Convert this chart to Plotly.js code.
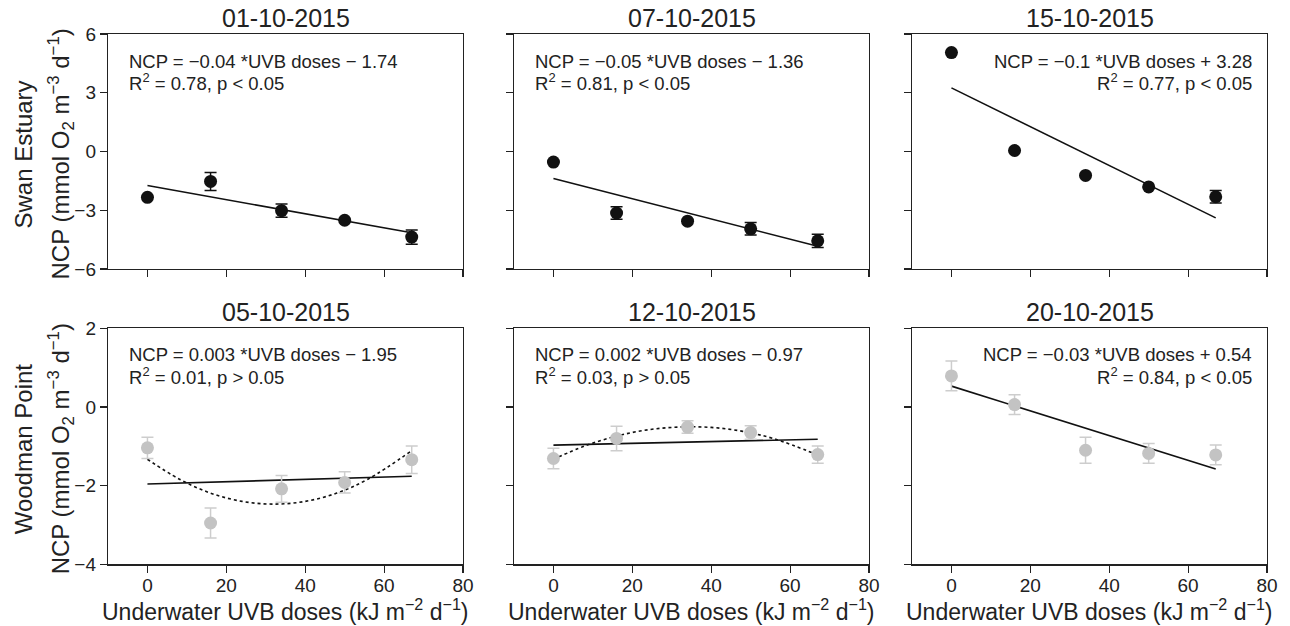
<!DOCTYPE html>
<html>
<head>
<meta charset="utf-8">
<script src="https://cdn.plot.ly/plotly-3.0.1.min.js"></script>
<style>
  html, body { margin: 0; padding: 0; background: #fff; }
  #chart { width: 1290px; height: 626px; }
</style>
</head>
<body>
<div id="chart"></div>
<script>
// ---------------- DATA ----------------
const doses = [0, 16, 34, 50, 67];
const panelDates = ["01-10-2015", "07-10-2015", "15-10-2015", "05-10-2015", "12-10-2015", "20-10-2015"];
const siteNames = ["Swan Estuary", "Woodman Point"];

// Swan Estuary (black)
const ncp_0110 = [-2.34, -1.53, -3.02, -3.51, -4.37];
const err_0110 = [0, 0.46, 0.34, 0, 0.36];
const ncp_0710 = [-0.54, -3.14, -3.56, -3.95, -4.56];
const err_0710 = [0, 0.32, 0, 0.32, 0.34];
const ncp_1510 = [5.05, 0.05, -1.22, -1.81, -2.31];
const err_1510 = [0, 0, 0, 0, 0.32];

// Woodman Point (grey)
const ncp_0510 = [-1.04, -2.95, -2.08, -1.92, -1.34];
const err_0510 = [0.27, 0.38, 0.34, 0.27, 0.35];
const ncp_1210 = [-1.31, -0.80, -0.51, -0.65, -1.21];
const err_1210 = [0.26, 0.31, 0.16, 0.17, 0.22];
const ncp_2010 = [0.79, 0.06, -1.10, -1.18, -1.22];
const err_2010 = [0.38, 0.25, 0.33, 0.25, 0.25];

// Linear regression lines (end points)
const fitX = [0, 67];
const fit_0110 = [-1.74, -4.15];
const fit_0710 = [-1.38, -4.84];
const fit_1510 = [3.25, -3.39];
const fit_0510 = [-1.96, -1.76];
const fit_1210 = [-0.97, -0.82];
const fit_2010 = [0.53, -1.58];

// Dotted quadratic curves
const curveX = [0, 8, 16, 24, 32, 40, 48, 56, 67];
const curve_0510 = [-1.33, -1.83, -2.19, -2.40, -2.47, -2.40, -2.19, -1.83, -1.11];
const curve_1210 = [-1.33, -0.99, -0.74, -0.58, -0.51, -0.52, -0.62, -0.81, -1.22];

// Equation labels
const eqLine1 = [
  "NCP = −0.04 *UVB doses − 1.74",
  "NCP = −0.05 *UVB doses − 1.36",
  "NCP = −0.1 *UVB doses + 3.28",
  "NCP = 0.003 *UVB doses − 1.95",
  "NCP = 0.002 *UVB doses − 0.97",
  "NCP = −0.03 *UVB doses + 0.54"
];
const eqLine2 = [
  "R<sup>2</sup> = 0.78, p &lt; 0.05",
  "R<sup>2</sup> = 0.81, p &lt; 0.05",
  "R<sup>2</sup> = 0.77, p &lt; 0.05",
  "R<sup>2</sup> = 0.01, p &gt; 0.05",
  "R<sup>2</sup> = 0.03, p &gt; 0.05",
  "R<sup>2</sup> = 0.84, p &lt; 0.05"
];
const eqAlign = ["left", "left", "right", "left", "left", "right"];

const xTitle = "Underwater UVB doses (kJ m<sup>−2</sup> d<sup>−1</sup>)";
const yTitle = "NCP (mmol O<sub>2</sub> m<sup>−3</sup> d<sup>−1</sup>)";

// ---------------- STYLE / LAYOUT ----------------
const W = 1290, H = 626;
const FONT = '"Liberation Sans", Arial, Helvetica, sans-serif';
const INK = '#222222';
const BLACK = '#111111';
const GREY_M = '#c3c3c3';
const GREY_E = '#cdcdcd';

const colPx = [[108, 463], [514, 869], [912, 1267]];
const rowPx = [[34, 269], [328.3, 564.3]];
const xDom = colPx.map(c => [c[0] / W, c[1] / W]);
const yDom = rowPx.map(r => [1 - r[1] / H, 1 - r[0] / H]);

const ncpSets = [ncp_0110, ncp_0710, ncp_1510, ncp_0510, ncp_1210, ncp_2010];
const errSets = [err_0110, err_0710, err_1510, err_0510, err_1210, err_2010];
const fitSets = [fit_0110, fit_0710, fit_1510, fit_0510, fit_1210, fit_2010];
const curveSets = { 3: curve_0510, 4: curve_1210 };

const traces = [];
const layout = {
  width: W, height: H,
  margin: { l: 0, r: 0, t: 0, b: 0 },
  paper_bgcolor: '#fff', plot_bgcolor: '#fff',
  showlegend: false,
  font: { family: FONT, color: INK },
  annotations: []
};

for (let i = 0; i < 6; i++) {
  const row = Math.floor(i / 3), col = i % 3;
  const n = i + 1;
  const xa = 'x' + (n === 1 ? '' : n), ya = 'y' + (n === 1 ? '' : n);
  const xKey = 'xaxis' + (n === 1 ? '' : n), yKey = 'yaxis' + (n === 1 ? '' : n);
  const grey = row === 1;

  layout[xKey] = {
    domain: xDom[col], anchor: ya, range: [-10, 80],
    tick0: 0, dtick: 20, ticks: 'outside', ticklen: 7, tickwidth: 1.2, tickcolor: INK,
    showline: true, mirror: true, linecolor: INK, linewidth: 1.2,
    showgrid: false, zeroline: false, showticklabels: row === 1,
    ticklabelstandoff: -3,
    tickfont: { family: FONT, size: 19, color: INK }, fixedrange: true
  };
  layout[yKey] = {
    domain: yDom[row], anchor: xa,
    range: row === 0 ? [-6, 6] : [-4, 2],
    tick0: 0, dtick: row === 0 ? 3 : 2,
    ticks: 'outside', ticklen: 7, tickwidth: 1.2, tickcolor: INK,
    showline: true, mirror: true, linecolor: INK, linewidth: 1.2,
    showgrid: false, zeroline: false, showticklabels: col === 0,
    tickfont: { family: FONT, size: 19, color: INK }, fixedrange: true
  };

  // regression line
  traces.push({
    type: 'scatter', mode: 'lines', x: fitX, y: fitSets[i], xaxis: xa, yaxis: ya,
    line: { color: BLACK, width: 1.6 }, hoverinfo: 'skip'
  });
  // quadratic dotted
  if (curveSets[i]) {
    traces.push({
      type: 'scatter', mode: 'lines', x: curveX, y: curveSets[i], xaxis: xa, yaxis: ya,
      line: { color: BLACK, width: 1.6, dash: 'dot', shape: 'spline' }, hoverinfo: 'skip'
    });
  }
  // points with error bars
  traces.push({
    type: 'scatter', mode: 'markers', x: doses, y: ncpSets[i], xaxis: xa, yaxis: ya,
    marker: { size: 13, color: grey ? GREY_M : BLACK, line: { width: 0 } },
    error_y: { type: 'data', array: errSets[i], visible: true,
      color: grey ? GREY_E : BLACK, thickness: 1.5, width: 6 }
  });

  // panel title
  layout.annotations.push({
    xref: xa + ' domain', yref: ya + ' domain', x: 0.5, y: 1,
    xanchor: 'center', yanchor: 'middle', yshift: 16, showarrow: false,
    text: panelDates[i], font: { family: FONT, size: 25, color: INK }
  });
  // equation lines
  const left = eqAlign[i] === 'left';
  const shifts = row === 0 ? [-27, -48] : [-26, -48];
  [eqLine1[i], eqLine2[i]].forEach((t, k) => {
    layout.annotations.push({
      xref: xa + ' domain', yref: ya + ' domain', x: left ? 0 : 1, y: 1,
      xanchor: left ? 'left' : 'right', yanchor: 'middle',
      xshift: left ? 19 : -13, yshift: shifts[k], showarrow: false,
      align: left ? 'left' : 'right',
      text: t, font: { family: FONT, size: 18.5, color: INK }
    });
  });
  // x axis title (bottom row)
  if (row === 1) {
    layout.annotations.push({
      xref: xa + ' domain', yref: ya + ' domain', x: 0.5, y: 0,
      xanchor: 'center', yanchor: 'middle', yshift: -46, showarrow: false,
      text: xTitle, font: { family: FONT, size: 23, color: INK }
    });
  }
}

// y-axis titles (site name + unit line)
rowPx.forEach((r, row) => {
  const yc = 1 - ((r[0] + r[1]) / 2 + 3) / H;
  layout.annotations.push({
    xref: 'paper', yref: 'paper', x: 23 / W, y: yc,
    xanchor: 'center', yanchor: 'middle', textangle: -90, showarrow: false,
    text: siteNames[row], font: { family: FONT, size: 24, color: INK }
  });
  layout.annotations.push({
    xref: 'paper', yref: 'paper', x: 61 / W, y: yc,
    xanchor: 'center', yanchor: 'middle', textangle: -90, showarrow: false,
    text: yTitle, font: { family: FONT, size: 24, color: INK }
  });
});

Plotly.newPlot('chart', traces, layout, { staticPlot: true, displayModeBar: false });
</script>
</body>
</html>
